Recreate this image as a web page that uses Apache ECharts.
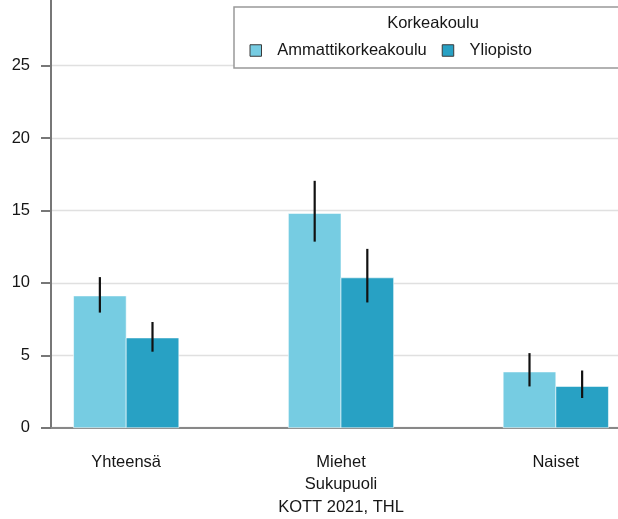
<!DOCTYPE html>
<html>
<head>
<meta charset="utf-8">
<script src="https://cdn.jsdelivr.net/npm/echarts@6/dist/echarts.min.js"></script>
<style>
  html, body { margin: 0; padding: 0; background: #fff; }
  #chart { width: 618px; height: 519px; }
</style>
</head>
<body>
<div id="chart"></div>
<script>
// Categories (Sukupuoli) and the two school types (Korkeakoulu)
const categories = ['Yhteensä', 'Miehet', 'Naiset'];
const seriesNames = ['Ammattikorkeakoulu', 'Yliopisto'];

// Percent values with confidence interval limits
const amkValues = [9.1, 14.8, 3.85];
const amkLow    = [7.95, 12.85, 2.85];
const amkHigh   = [10.4, 17.05, 5.15];

const yoValues  = [6.2, 10.35, 2.85];
const yoLow     = [5.25, 8.65, 2.05];
const yoHigh    = [7.3, 12.35, 3.95];

const yTickValues = [0, 5, 10, 15, 20, 25];

const FONT = 'Liberation Sans, Arial, sans-serif';
const TEXT = '#161616';
const COLOR_AMK = '#76CCE2';
const COLOR_YO = '#28A1C4';
const BAR_W = 0.245;          // bar width in category units
const BAR_EDGE = 'rgba(255,255,255,0.55)';

function barSeries(name, values, side, color) {
  return {
    type: 'custom',
    name: name,
    itemStyle: { color: color },
    data: values.map((v, i) => [i + 1, v]),
    encode: { x: 0, y: 1 },
    z: 2,
    renderItem: function (params, api) {
      const x = api.value(0), v = api.value(1);
      const x0 = side < 0 ? x - BAR_W : x;
      const pTop = api.coord([x0, v]);
      const pBot = api.coord([x0 + BAR_W, 0]);
      return {
        type: 'rect',
        shape: { x: pTop[0], y: pTop[1], width: pBot[0] - pTop[0], height: pBot[1] - pTop[1] },
        style: { fill: color, stroke: BAR_EDGE, lineWidth: 1 }
      };
    }
  };
}

function errorSeries(low, high, side) {
  return {
    type: 'custom',
    silent: true,
    data: low.map((l, i) => [i + 1, l, high[i]]),
    encode: { x: 0, y: [1, 2] },
    z: 3,
    renderItem: function (params, api) {
      const xc = api.value(0) + side * BAR_W / 2;
      const a = api.coord([xc, api.value(1)]);
      const b = api.coord([xc, api.value(2)]);
      return {
        type: 'line',
        shape: { x1: a[0], y1: a[1], x2: b[0], y2: b[1] },
        style: { stroke: '#111', lineWidth: 2.2 }
      };
    }
  };
}

const chart = echarts.init(document.getElementById('chart'), null, { renderer: 'canvas' });

chart.setOption({
  animation: false,
  backgroundColor: '#fff',
  // the panel runs a little past the right edge of the canvas
  grid: { left: 51, width: 580, top: -6.7, bottom: 91.3, outerBoundsMode: 'none', containLabel: false },
  xAxis: {
    type: 'value',
    min: 0.65,
    max: 3.35,
    name: 'Sukupuoli',
    nameLocation: 'middle',
    nameGap: 48,
    nameTextStyle: { fontFamily: FONT, fontSize: 16.5, color: TEXT },
    axisLine: { show: true, onZero: false, lineStyle: { color: '#888', width: 2 } },
    axisTick: { show: false },
    splitLine: { show: false },
    axisLabel: {
      customValues: [1, 2, 3],
      formatter: function (v) { return categories[Math.round(v) - 1] || ''; },
      margin: 26,
      fontFamily: FONT, fontSize: 16.5, color: TEXT
    }
  },
  yAxis: {
    type: 'value',
    min: 0,
    max: 30,
    interval: 5,
    axisLine: { show: true, lineStyle: { color: '#777', width: 2 } },
    axisTick: { show: true, length: 10, lineStyle: { color: '#777', width: 2 } },
    splitLine: { show: true, lineStyle: { color: '#e0e0e0', width: 1.3 } },
    axisLabel: {
      showMaxLabel: false,
      margin: 21,
      fontFamily: FONT, fontSize: 16.5, color: TEXT,
      formatter: function (v) { return yTickValues.indexOf(v) >= 0 ? String(v) : ''; }
    }
  },
  legend: {
    data: seriesNames,
    left: 249.5,
    top: 42,
    padding: 0,
    orient: 'horizontal',
    itemWidth: 33,
    itemHeight: 11.5,
    itemGap: 15,
    icon: 'path://M0,0H10V10H0Z',
    itemStyle: { borderColor: '#3a3a3a', borderWidth: 1 },
    textStyle: { fontFamily: FONT, fontSize: 16.5, color: TEXT },
    z: 6
  },
  graphic: {
    elements: [
      {
        type: 'rect', z: 5, silent: true,
        shape: { x: 234, y: 7, width: 500, height: 61 },
        style: { fill: '#fff', stroke: '#999', lineWidth: 1.5 }
      },
      {
        type: 'text', z: 7, silent: true,
        style: { x: 433, y: 23.5, text: 'Korkeakoulu', textAlign: 'center', textVerticalAlign: 'middle',
                 font: '16.5px ' + FONT, fill: TEXT }
      },
      {
        type: 'text', z: 7, silent: true,
        style: { x: 341, y: 507.5, text: 'KOTT 2021, THL', textAlign: 'center', textVerticalAlign: 'middle',
                 font: '16.5px ' + FONT, fill: TEXT }
      }
    ]
  },
  series: [
    barSeries(seriesNames[0], amkValues, -1, COLOR_AMK),
    barSeries(seriesNames[1], yoValues, 1, COLOR_YO),
    errorSeries(amkLow, amkHigh, -1),
    errorSeries(yoLow, yoHigh, 1)
  ]
});
</script>
</body>
</html>
